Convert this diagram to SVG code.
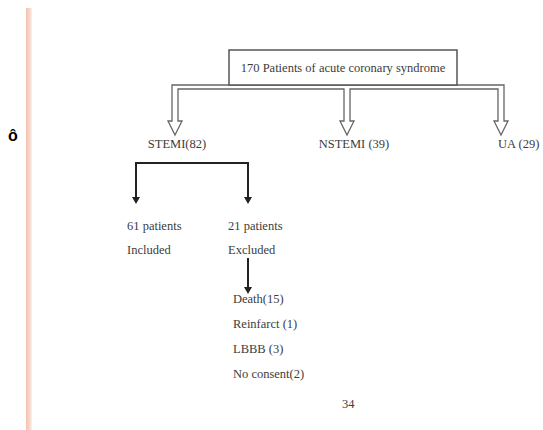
<svg xmlns="http://www.w3.org/2000/svg" width="543" height="430" viewBox="0 0 543 430">
<defs>
<style>
.t{font-family:"Liberation Serif","Times New Roman",serif;font-size:12.5px;fill:#3c3c3c}
.blk{stroke:#222;stroke-width:2;fill:none}
.hollow{fill:#fff;stroke:#666;stroke-width:1.3;stroke-linejoin:miter}
</style>
<marker id="ah" markerWidth="8" markerHeight="8" refX="4" refY="6" orient="auto" markerUnits="userSpaceOnUse" viewBox="0 0 8 8">
<path d="M0,1 L8,1 L4,7 Z" fill="#222"/>
</marker>
<linearGradient id="bar" x1="0" x2="1" y1="0" y2="0">
<stop offset="0" stop-color="#f4c2b0"/>
<stop offset="0.6" stop-color="#f8d6c9"/>
<stop offset="1" stop-color="#fdf0ea"/>
</linearGradient>
</defs>
<rect width="543" height="430" fill="#fff"/>
<rect x="26" y="8" width="6" height="422" fill="url(#bar)"/>
<text x="8" y="141" font-family="Liberation Sans,Arial,sans-serif" font-size="16" font-weight="bold" fill="#000">ô</text>
<g id="connectors">
<path class="hollow" d="M172,85 H504 V121 H508 L501,135 L494,121 H498 V89 H350 V121 H354 L347,135 L340,121 H344 V89 H178 V121 H182 L175,135 L168,121 H172 Z"/>
<path class="blk" d="M136,200 V163 H248 V200"/>
<path d="M132,197 L140,197 L136,204 Z M244,197 L252,197 L248,204 Z" fill="#222"/>
<line class="blk" x1="248" y1="258" x2="248" y2="290"/>
<path d="M244,287 L252,287 L248,294 Z" fill="#222"/>
</g>
<g id="root">
<rect x="229" y="50" width="228" height="35" fill="#fff" stroke="#555" stroke-width="1.5"/>
<text class="t" x="343" y="72" text-anchor="middle">170 Patients of acute coronary syndrome</text>
</g>
<g id="stemi"><text class="t" x="177" y="148" text-anchor="middle">STEMI(82)</text></g>
<g id="nstemi"><text class="t" x="354" y="148" text-anchor="middle">NSTEMI (39)</text></g>
<g id="ua"><text class="t" x="498" y="148">UA (29)</text></g>
<g id="included"><text class="t" x="127" y="230">61 patients</text><text class="t" x="127" y="254">Included</text></g>
<g id="excluded"><text class="t" x="228" y="230">21 patients</text><text class="t" x="228" y="254">Excluded</text></g>
<g id="reasons">
<text class="t" x="233" y="303">Death(15)</text>
<text class="t" x="233" y="328">Reinfarct (1)</text>
<text class="t" x="233" y="353">LBBB (3)</text>
<text class="t" x="233" y="378">No consent(2)</text>
</g>
<text class="t" x="342" y="408" font-size="11">34</text>
</svg>
